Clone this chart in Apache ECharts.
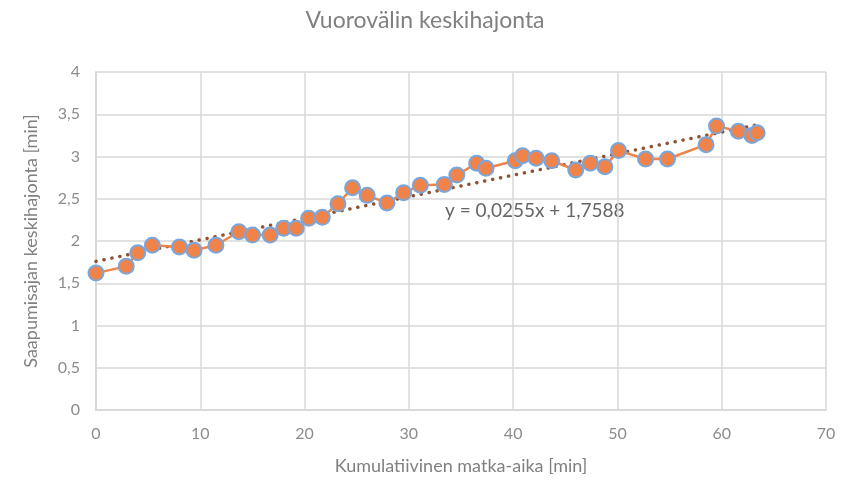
<!DOCTYPE html>
<html><head><meta charset="utf-8">
<script src="https://cdn.jsdelivr.net/npm/echarts@6/dist/echarts.min.js"></script>
<style>html,body{margin:0;padding:0;background:#fff}#c{width:850px;height:482px}</style>
</head><body><div id="c"></div>
<script>
const xValues = [0, 2.9, 4.0, 5.4, 8.0, 9.4, 11.5, 13.7, 15.0, 16.7, 18.0, 19.2, 20.4, 21.7, 23.2, 24.6, 26.0, 27.9, 29.5, 31.1, 33.4, 34.6, 36.5, 37.4, 40.2, 40.9, 42.2, 43.7, 46.0, 47.4, 48.8, 50.1, 52.7, 54.8, 58.5, 59.5, 61.6, 62.9, 63.4];
const yValues = [1.62, 1.70, 1.86, 1.95, 1.93, 1.89, 1.95, 2.11, 2.07, 2.07, 2.15, 2.15, 2.27, 2.28, 2.44, 2.63, 2.54, 2.45, 2.57, 2.66, 2.67, 2.78, 2.92, 2.86, 2.95, 3.01, 2.98, 2.95, 2.84, 2.92, 2.88, 3.07, 2.97, 2.97, 3.14, 3.36, 3.30, 3.25, 3.28];
const trendSlope = 0.0255;
const trendIntercept = 1.7588;
const trendLabel = 'y = 0,0255x + 1,7588';
const titleText = 'Vuorovälin keskihajonta';
const xAxisName = 'Kumulatiivinen matka-aika [min]';
const yAxisName = 'Saapumisajan keskihajonta [min]';

const font = 'Lato, "Open Sans", sans-serif';
const pts = xValues.map((x, i) => [x, yValues[i]]);
const xEnd = xValues[xValues.length - 1];
const trend = [[0, trendIntercept], [xEnd, trendSlope * xEnd + trendIntercept]];

const chart = echarts.init(document.getElementById('c'));
chart.setOption({
  animation: false,
  title: { text: titleText, left: 'center', top: 4, textStyle: { fontFamily: font, fontWeight: 'normal', fontSize: 23, color: '#808080' } },
  grid: { left: 96, right: 24, top: 72, bottom: 72 },
  xAxis: {
    type: 'value', min: 0, max: 70, interval: 10,
    name: xAxisName, nameLocation: 'middle', nameGap: 47,
    nameTextStyle: { fontFamily: font, fontSize: 18, color: '#808080' },
    axisLine: { show: true, lineStyle: { color: '#d9d9d9', width: 2 } },
    axisTick: { show: false },
    axisLabel: { fontFamily: font, fontSize: 16, color: '#8c8c8c', margin: 16 },
    splitLine: { show: true, lineStyle: { color: '#d9d9d9', width: 1.5 } }
  },
  yAxis: {
    type: 'value', min: 0, max: 4, interval: 0.5,
    name: yAxisName, nameLocation: 'middle', nameGap: 56,
    nameTextStyle: { fontFamily: font, fontSize: 18, color: '#808080' },
    axisLine: { show: true, lineStyle: { color: '#d9d9d9', width: 2 } },
    axisTick: { show: false },
    axisLabel: { fontFamily: font, fontSize: 16, color: '#8c8c8c', margin: 16, formatter: v => String(v).replace('.', ',') },
    splitLine: { show: true, lineStyle: { color: '#d9d9d9', width: 1.5 } }
  },
  series: [
    {
      type: 'line', data: trend, symbol: 'none', z: 3,
      lineStyle: { color: '#8f5232', width: 3.5, type: [0.1, 8], cap: 'round' }
    },
    {
      type: 'line', data: pts, symbol: 'circle', symbolSize: 15, z: 4,
      lineStyle: { color: '#f0834a', width: 2.5 },
      itemStyle: { color: '#f0834a', borderColor: '#79a7dc', borderWidth: 2 }
    }
  ],
  graphic: [{
    type: 'text', left: 445, top: 201,
    style: { text: trendLabel, fontFamily: font, fontSize: 19, fill: '#666666' }
  }]
});
</script></body></html>
